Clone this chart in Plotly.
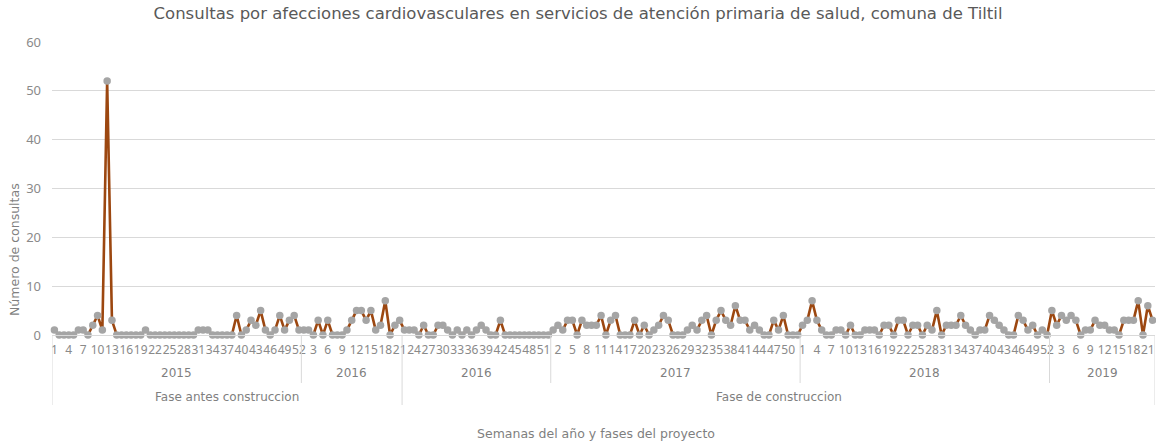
import plotly.graph_objects as go

# ---- data (weekly consultations) ----
y2015 = [1, 0, 0, 0, 0, 1, 1, 0, 2, 4, 1, 52, 3,
         0, 0, 0, 0, 0, 0, 1,
         0, 0, 0, 0, 0, 0, 0, 0, 0, 0,
         1, 1, 1, 0, 0, 0, 0, 0, 4,
         0, 1, 3, 2, 5, 1, 0, 1, 4, 1, 3, 4, 1]
y2016_antes = [1, 1, 0, 3, 0, 3, 0, 0, 0, 1, 3, 5, 5, 3, 5, 1, 2, 7, 0, 2, 3]
y2016_const = [1, 1, 1, 0, 2, 0, 0, 2, 2, 1, 0, 1, 0, 1, 0, 1, 2, 1, 0, 0, 3,
               0, 0, 0, 0, 0, 0, 0, 0, 0, 0]
y2017 = [1, 2, 1, 3, 3, 0, 3, 2, 2, 2,
         4, 0, 3, 4, 0, 0, 0, 3, 0, 2, 0, 1, 2, 4, 3, 0, 0, 0, 1, 2, 1,
         3, 4, 0, 3, 5, 3, 2, 6, 3, 3, 1, 2, 1, 0, 0, 3, 1, 4, 0, 0, 0]
y2018 = [2, 3, 7, 3, 1, 0, 0, 1, 1, 0,
         2, 0, 0, 1, 1, 1, 0, 2, 2, 0,
         3, 3, 0, 2, 2, 0, 2, 1, 5, 0,
         2, 2, 2, 4, 2, 1, 0, 1, 1, 4,
         3, 2, 1, 0, 0, 4, 3, 1, 2, 0, 1, 0]
y2019 = [5, 2, 4, 3, 4, 3, 0, 1, 1, 3, 2, 2, 1, 1, 0, 3, 3, 3, 7, 0, 6, 3]

segments = [y2015, y2016_antes, y2016_const, y2017, y2018, y2019]
segment_years = ["2015", "2016", "2016", "2017", "2018", "2019"]
segment_first_week = [1, 1, 22, 1, 1, 1]
phases = ["Fase antes construccion", "Fase de construccion"]
phase_segment_counts = [2, 4]

title = "Consultas por afecciones cardiovasculares en servicios de atención primaria de salud, comuna de Tiltil"
y_title = "Número de consultas"
x_title = "Semanas del año y fases del proyecto"

# ---- build series ----
values, weeks, bounds = [], [], [0]
for seg, w0 in zip(segments, segment_first_week):
    values += seg
    weeks += [w0 + k for k in range(len(seg))]
    bounds.append(len(values))
x = list(range(len(values)))

tickvals = x[::3]
ticktext = [str(weeks[i]) for i in tickvals]

FONT = "DejaVu Sans"
TICKFONT = "Noto Sans"
GRAY = "#7f7f7f"
LINE = "#d9d9d9"

fig = go.Figure()
fig.add_trace(go.Scatter(
    x=x, y=values, mode="lines+markers",
    line=dict(color="#9c4710", width=2.6),
    marker=dict(color="#a5a5a5", size=7.5),
    cliponaxis=False, hoverinfo="y",
))

# plot geometry in pixels
W, H = 1156, 445
L, R, T, B = 52, 1, 42, 110
pw = W - L - R
ph = H - T - B


def py(px_y):
    return (H - B - px_y) / ph


def px(px_x):
    return (px_x - L) / pw


shapes = []
annotations = []
phase_bounds = [0]
acc = 0
for c in phase_segment_counts:
    acc += c
    phase_bounds.append(acc)
for k, b in enumerate(bounds):
    is_phase = k in phase_bounds
    y_end = py(405) if is_phase else py(383)
    shapes.append(dict(type="line", xref="x", yref="paper",
                       x0=b - 0.5, x1=b - 0.5, y0=0, y1=y_end,
                       line=dict(color=LINE, width=1)))
for k, yr in enumerate(segment_years):
    annotations.append(dict(x=(bounds[k] + bounds[k + 1] - 1) / 2, y=py(373),
                            xref="x", yref="paper", text=yr, showarrow=False,
                            xanchor="center", yanchor="middle",
                            font=dict(family=FONT, size=12, color=GRAY)))
for k, ph_name in enumerate(phases):
    a = bounds[phase_bounds[k]]
    b = bounds[phase_bounds[k + 1]]
    annotations.append(dict(x=(a + b - 1) / 2, y=py(397),
                            xref="x", yref="paper", text=ph_name, showarrow=False,
                            xanchor="center", yanchor="middle",
                            font=dict(family=FONT, size=12, color=GRAY)))
annotations.append(dict(x=px(596), y=py(433), xref="paper", yref="paper",
                        xanchor="center", yanchor="middle",
                        text=x_title, showarrow=False,
                        font=dict(family=FONT, size=12.5, color=GRAY)))
annotations.append(dict(x=px(14), y=py(250), xref="paper", yref="paper",
                        text=y_title, showarrow=False, textangle=-90,
                        xanchor="center", yanchor="middle",
                        font=dict(family=FONT, size=12.5, color=GRAY)))

fig.update_layout(
    width=W, height=H,
    margin=dict(l=L, r=R, t=T, b=B, autoexpand=False),
    paper_bgcolor="white", plot_bgcolor="white",
    showlegend=False,
    title=dict(text=title, x=0.5, xanchor="center", y=1 - 13 / H, yanchor="middle",
               font=dict(family=FONT, size=16.5, color="#595959")),
    shapes=shapes, annotations=annotations,
    xaxis=dict(range=[-0.5, len(values) - 0.5], tickmode="array",
               tickvals=tickvals, ticktext=ticktext, tickangle=0,
               showgrid=False, zeroline=False, showline=True, linecolor=LINE,
               ticks="", ticklabelstandoff=4,
               tickfont=dict(family=TICKFONT, size=12, color="#8a8a8a")),
    yaxis=dict(range=[0, 60], dtick=10, showgrid=True, gridcolor=LINE,
               zeroline=False, showline=False, ticks="", ticklabelstandoff=10,
               tickfont=dict(family=TICKFONT, size=13, color="#8a8a8a")),
)

fig.write_html("out.html", config={"displayModeBar": False},
               post_script="document.body.style.margin='0px';")
